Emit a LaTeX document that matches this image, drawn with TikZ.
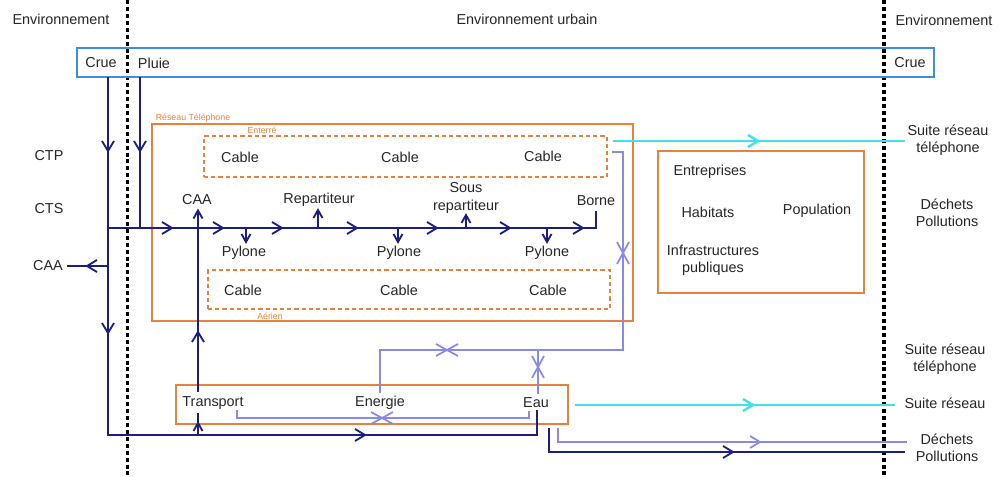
\documentclass[tikz,border=0pt]{standalone}
\usepackage{fontspec}
\setmainfont{Liberation Sans}
\usetikzlibrary{fit}
\definecolor{navy}{HTML}{1E1E82}
\definecolor{obox}{HTML}{E9803C}
\definecolor{bbox}{HTML}{3C8FE0}
\definecolor{cyanl}{HTML}{3FE3E8}
\definecolor{lav}{HTML}{8A8AE6}
\begin{document}
\begin{tikzpicture}[x=0.75pt,y=-0.75pt,
  txt/.style={font=\fontsize{10.8}{12.8}\selectfont, inner sep=0pt, align=center, text=black!85},
  small/.style={font=\fontsize{6.6}{8}\selectfont, inner sep=0pt, text=obox},
  dotline/.style={line width=2.6pt, dash pattern=on 3pt off 2.2pt, black},
  bluebox/.style={draw=bbox, line width=2.2pt, inner sep=0pt},
  orbox/.style={draw=obox, line width=2.2pt, inner sep=0pt},
  dashbox/.style={draw=obox, line width=1.8pt, dash pattern=on 3.2pt off 2.2pt, inner sep=0pt},
  navyl/.style={draw=navy, line width=1.4pt},
  lavl/.style={draw=lav, line width=1.3pt},
  cyanln/.style={draw=cyanl, line width=1.8pt},
  arr/.pic={\draw[pic actions, line join=miter] (-10,-6) -- (0,0) -- (-10,6);},
  sarr/.pic={\draw[pic actions, line join=miter] (-8,-4.5) -- (0,0) -- (-8,4.5);},
  xarr/.pic={\draw[pic actions] (-11,-6) -- (0,0) -- (-11,6) (11,-6) -- (0,0) -- (11,6);}
]
\useasboundingbox (0,0) rectangle (999,477);

% separators
\coordinate (sepLt) at (127.5,0); \coordinate (sepLb) at (127.5,477);
\coordinate (sepRt) at (884,0); \coordinate (sepRb) at (884,477);
\draw[dotline] (sepLt) -- (sepLb);
\draw[dotline] (sepRt) -- (sepRb);

% headers
\node[txt] (envL) at (61,19) {Environnement};
\node[txt] (envU) at (527,19) {Environnement urbain};
\node[txt] (envR) at (944,20) {Environnement};

% blue band
\node[bluebox, fit={(77,48) (934,77)}] (bande) {};
\node[txt] (crueL) at (101,63) {Crue};
\node[txt] (pluie) at (154,63) {Pluie};
\node[txt] (crueR) at (910,63) {Crue};

% left labels
\node[txt] (ctp) at (49,156) {CTP};
\node[txt] (cts) at (49,209) {CTS};
\node[txt] (caaL) at (48,266) {CAA};

% telephone network
\node[orbox, fit={(152,124) (633,321)}] (reseau) {};
\node[small] (reseauLbl) at (193,118) {Réseau Téléphone};
\node[dashbox, fit={(204,136) (607,177)}] (enterre) {};
\node[small] (enterreLbl) at (262,130.5) {Enterré};
\node[dashbox, fit={(208,270) (610,309)}] (aerien) {};
\node[small] (aerienLbl) at (270,316) {Aérien};

\node[txt] (cab1) at (240,157) {Cable};
\node[txt] (cab2) at (400,157) {Cable};
\node[txt] (cab3) at (543,156) {Cable};
\node[txt] (cab4) at (243,290) {Cable};
\node[txt] (cab5) at (399,290) {Cable};
\node[txt] (cab6) at (548,290) {Cable};

\node[txt] (caa) at (197,200) {CAA};
\node[txt] (rep) at (319,200) {Repartiteur};
\node[txt] (srep) at (466,198) {Sous\\repartiteur};
\node[txt] (borne) at (596,201) {Borne};
\node[txt] (pyl1) at (244,253) {Pylone};
\node[txt] (pyl2) at (399,253) {Pylone};
\node[txt] (pyl3) at (547,253) {Pylone};

% city box
\node[orbox, fit={(658,151) (864,293)}] (ville) {};
\node[txt] (entr) at (710,172) {Entreprises};
\node[txt] (hab) at (708,212) {Habitats};
\node[txt] (pop) at (817,211) {Population};
\node[txt] (infra) at (713,260) {Infrastructures\\publiques};

% bottom box
\node[orbox, fit={(176,385) (568,424)}] (services) {};
\node[txt] (transp) at (213,403) {Transport};
\node[txt] (energ) at (380,403) {Energie};
\node[txt] (eau) at (536,403) {Eau};

% right labels
\node[txt] (suiteT1) at (948,140) {Suite réseau\\téléphone};
\node[txt] (dech1) at (947,213) {Déchets\\Pollutions};
\node[txt] (suiteT2) at (945,359.5) {Suite réseau\\téléphone};
\node[txt] (suiteR) at (945,403) {Suite réseau};
\node[txt] (dech2) at (947,448) {Déchets\\Pollutions};

% ---- navy connectors
\coordinate (crueFoot) at (108,77);
\coordinate (crueCorner) at (108,435);
\coordinate (eauCorner) at (537,435);
\coordinate (eauIn) at (537,410);
\draw[navyl] (crueFoot) -- (crueCorner) -- (eauCorner) -- (eauIn);
\pic[draw=navy, line width=1.4pt, rotate=-90] at (108,151) {arr};
\pic[draw=navy, line width=1.4pt, rotate=-90] at (108,333) {arr};
\pic[draw=navy, line width=1.4pt] at (365,435) {arr};

\coordinate (pluieFoot) at (140,77);
\coordinate (pluieCorner) at (140,228);
\draw[navyl] (pluieFoot) -- (pluieCorner);
\pic[draw=navy, line width=1.4pt, rotate=-90] at (140,151) {arr};

\coordinate (mainStart) at (108,228);
\coordinate (borneCorner) at (596,228);
\coordinate (borneIn) at (596,211);
\draw[navyl] (mainStart) -- (borneCorner) -- (borneIn);
\foreach \xx in {172,223,282,357,437,510,583}
  \pic[draw=navy, line width=1.4pt] at (\xx,228) {arr};

\coordinate (caaBranch) at (108,266);
\coordinate (caaLIn) at (67,266);
\draw[navyl] (caaBranch) -- (caaLIn);
\pic[draw=navy, line width=1.4pt, rotate=180] at (87,266) {arr};

% Transport -> CAA
\coordinate (trTop) at (198,392);
\coordinate (caaIn) at (198,210);
\draw[navyl] (trTop) -- (caaIn);
\pic[draw=navy, line width=1.4pt, rotate=90] at (198,210.5) {sarr};
\pic[draw=navy, line width=1.4pt, rotate=90] at (198,332) {arr};
\coordinate (trBranch) at (198,435);
\coordinate (trIn) at (198,413);
\draw[navyl] (trBranch) -- (trIn);
\pic[draw=navy, line width=1.4pt, rotate=90] at (198,423) {sarr};

% small branches
\draw[navyl] (318,228) coordinate (repB) -- (318,210) coordinate (repIn);
\pic[draw=navy, line width=1.4pt, rotate=90] at (repIn) {sarr};
\draw[navyl] (466,228) coordinate (srepB) -- (466,215) coordinate (srepIn);
\pic[draw=navy, line width=1.4pt, rotate=90] at (srepIn) {sarr};
\foreach \xx/\nm in {246/p1,398/p2,547/p3}{
  \draw[navyl] (\xx,228) coordinate (\nm B) -- (\xx,242) coordinate (\nm In);
  \pic[draw=navy, line width=1.4pt, rotate=-90] at (\nm In) {sarr};
}

% navy to Dechets
\coordinate (dnStart) at (549,428);
\coordinate (dnCorner) at (549,452);
\coordinate (dnEnd) at (905,452);
\draw[navyl] (dnStart) -- (dnCorner) -- (dnEnd);
\pic[draw=navy, line width=1.4pt] at (733,452) {arr};

% ---- lavender connectors
\coordinate (lvA) at (612,152);
\coordinate (lvB) at (623,152);
\coordinate (lvC) at (623,350);
\coordinate (lvD) at (380,350);
\coordinate (lvE) at (380,393);
\draw[lavl] (lvA) -- (lvB) -- (lvC) -- (lvD) -- (lvE);
\pic[draw=lav, line width=1.3pt, rotate=90] at (623,253) {xarr};
\pic[draw=lav, line width=1.3pt] at (447,350) {xarr};
\coordinate (eauTop) at (538,394);
\coordinate (eauJoin) at (538,350);
\draw[lavl] (eauTop) -- (eauJoin);
\pic[draw=lav, line width=1.3pt, rotate=90] at (538,367) {xarr};

\coordinate (tlA) at (237,410);
\coordinate (tlB) at (237,418);
\coordinate (tlC) at (529,418);
\coordinate (tlD) at (529,411);
\draw[lavl] (tlA) -- (tlB) -- (tlC) -- (tlD);
\pic[draw=lav, line width=1.3pt] at (382,418) {xarr};

\coordinate (ldStart) at (558,428);
\coordinate (ldCorner) at (558,442);
\coordinate (ldEnd) at (907,442);
\draw[lavl] (ldStart) -- (ldCorner) -- (ldEnd);
\pic[draw=lav, line width=1.3pt] at (760,442) {arr};

% ---- cyan connectors
\coordinate (cyA) at (613,141);
\coordinate (cyB) at (905,141);
\draw[cyanln] (cyA) -- (cyB);
\pic[draw=cyanl, line width=1.8pt] at (758,141) {arr};
\coordinate (cyC) at (575,405);
\coordinate (cyD) at (895,405);
\draw[cyanln] (cyC) -- (cyD);
\pic[draw=cyanl, line width=1.8pt] at (753,405) {arr};

\end{tikzpicture}
\end{document}
